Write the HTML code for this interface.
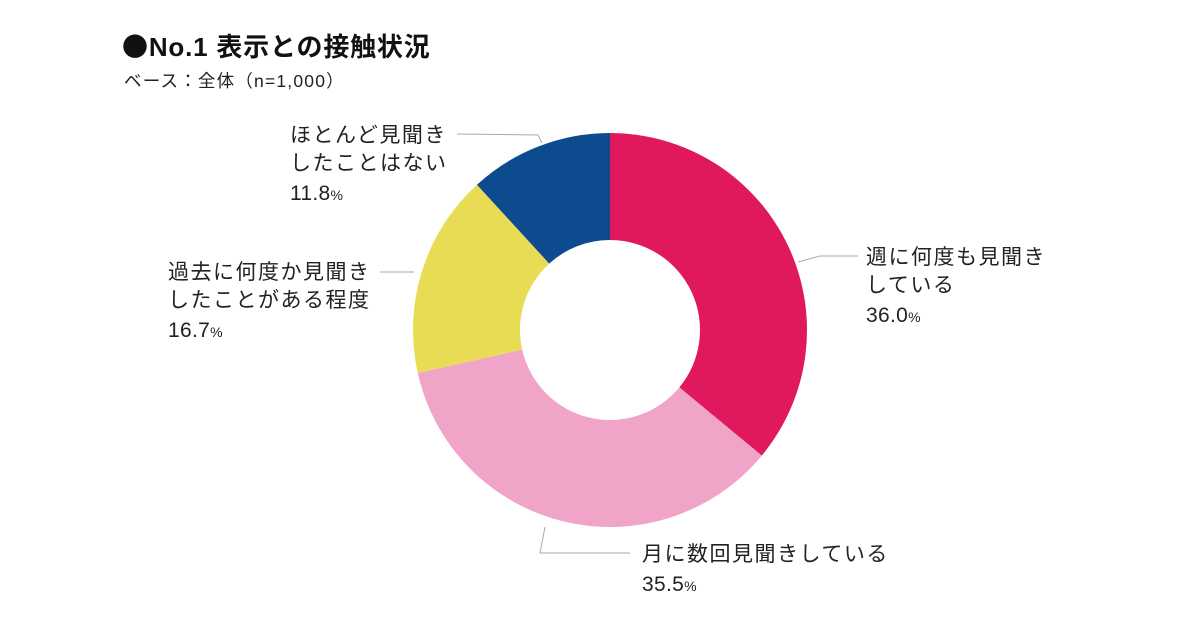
<!DOCTYPE html>
<html><head><meta charset="utf-8">
<style>
body{margin:0;background:#fff;}
svg{display:block;font-family:"Liberation Sans","Noto Sans CJK JP",sans-serif;}
</style></head>
<body>
<svg id="chart" width="1200" height="630" viewBox="0 0 1200 630">
<text x="122" y="56" font-size="26" font-weight="bold" fill="#111" letter-spacing="0.8"><tspan font-family="Noto Sans CJK JP">●</tspan>No.1 表示との接触状況</text>
<text x="124" y="87" font-size="17.5" fill="#222" letter-spacing="1.2">ベース：全体（n=1,000）</text>
<g id="slices"></g>
<g id="leaders" stroke="#aaa" stroke-width="1" fill="none">
<polyline points="457,134 538,135 542,143"/>
<polyline points="798,262 820,256 858,256"/>
<polyline points="380,272 414,272"/>
<polyline points="545,527 540,553 630,553"/>
</g>
<g id="labels" font-size="21" fill="#222" letter-spacing="1.5"></g>
</svg>
<script>
const categories=["週に何度も見聞きしている","月に数回見聞きしている","過去に何度か見聞きしたことがある程度","ほとんど見聞きしたことはない"];
const values=[36.0,35.5,16.7,11.8];
const colors=["#e0185e","#f0a4c8","#e8dc55","#0d4b8f"];
const labelLines=[["週に何度も見聞き","している"],["月に数回見聞きしている"],["過去に何度か見聞き","したことがある程度"],["ほとんど見聞き","したことはない"]];
const labelPos=[[866,264],[642,561],[168,279],[290,142]];
const cx=610,cy=330,R=197,r=90;
const NS="http://www.w3.org/2000/svg";
const total=values.reduce((a,b)=>a+b,0);
function pt(a,rad){return [cx+rad*Math.sin(a),cy-rad*Math.cos(a)];}
let ang=0;
const g=document.getElementById('slices');
values.forEach((v,i)=>{
  const a0=ang,a1=ang+v/total*2*Math.PI;ang=a1;
  const large=(a1-a0)>Math.PI?1:0;
  const p0=pt(a0,R),p1=pt(a1,R),q1=pt(a1,r),q0=pt(a0,r);
  const p=document.createElementNS(NS,'path');
  p.setAttribute('d',`M${p0} A${R},${R} 0 ${large} 1 ${p1} L${q1} A${r},${r} 0 ${large} 0 ${q0} Z`);
  p.setAttribute('fill',colors[i]);
  
  
  g.appendChild(p);
});
const lg=document.getElementById('labels');
labelLines.forEach((lines,i)=>{
  const [x,y]=labelPos[i];
  const t=document.createElementNS(NS,'text');
  
  
  lines.forEach((l,j)=>{
    const s=document.createElementNS(NS,'tspan');
    s.setAttribute('x',x);s.setAttribute('y',y+j*28);s.textContent=l;t.appendChild(s);
  });
  const s=document.createElementNS(NS,'tspan');
  s.setAttribute('x',x);s.setAttribute('y',y+lines.length*28+2);s.setAttribute('font-size','21');s.setAttribute('letter-spacing','0.3');s.textContent=values[i].toFixed(1);
  t.appendChild(s);
  const pc=document.createElementNS(NS,'tspan');
  pc.setAttribute('font-size','14');pc.setAttribute('letter-spacing','0');pc.textContent='%';t.appendChild(pc);
  lg.appendChild(t);
});
</script>
</body></html>
